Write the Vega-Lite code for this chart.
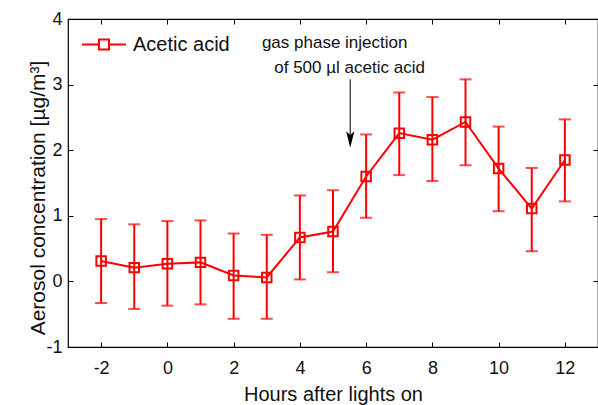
{
  "$schema": "https://vega.github.io/schema/vega-lite/v6.json",
  "width": 530,
  "height": 328,
  "autosize": {"type": "none"},
  "padding": {"left": 68, "top": 19, "right": 0, "bottom": 58},
  "background": "white",
  "config": {
    "view": {"stroke": "#000000", "strokeWidth": 1.2},
    "font": "Liberation Sans",
    "axis": {"grid": false, "domain": false, "tickColor": "#000000", "tickSize": -5, "tickWidth": 1, "labelColor": "#111111", "titleColor": "#111111", "labelFont": "Liberation Sans", "titleFont": "Liberation Sans", "labelFontSize": 18, "titleFontSize": 20, "titleFontWeight": "normal", "labelExpr": "'' + datum.value"}
  },
  "datasets": {
    "obs": [
      {"hour": -2, "conc": 0.31, "lower": -0.33, "upper": 0.95, "series": "Acetic acid"},
      {"hour": -1, "conc": 0.21, "lower": -0.42, "upper": 0.87, "series": "Acetic acid"},
      {"hour": 0, "conc": 0.27, "lower": -0.37, "upper": 0.92, "series": "Acetic acid"},
      {"hour": 1, "conc": 0.29, "lower": -0.35, "upper": 0.93, "series": "Acetic acid"},
      {"hour": 2, "conc": 0.09, "lower": -0.57, "upper": 0.73, "series": "Acetic acid"},
      {"hour": 3, "conc": 0.06, "lower": -0.57, "upper": 0.71, "series": "Acetic acid"},
      {"hour": 4, "conc": 0.67, "lower": 0.03, "upper": 1.31, "series": "Acetic acid"},
      {"hour": 5, "conc": 0.76, "lower": 0.14, "upper": 1.39, "series": "Acetic acid"},
      {"hour": 6, "conc": 1.6, "lower": 0.97, "upper": 2.24, "series": "Acetic acid"},
      {"hour": 7, "conc": 2.26, "lower": 1.62, "upper": 2.88, "series": "Acetic acid"},
      {"hour": 8, "conc": 2.16, "lower": 1.53, "upper": 2.81, "series": "Acetic acid"},
      {"hour": 9, "conc": 2.43, "lower": 1.77, "upper": 3.08, "series": "Acetic acid"},
      {"hour": 10, "conc": 1.72, "lower": 1.07, "upper": 2.36, "series": "Acetic acid"},
      {"hour": 11, "conc": 1.11, "lower": 0.46, "upper": 1.73, "series": "Acetic acid"},
      {"hour": 12, "conc": 1.85, "lower": 1.22, "upper": 2.47, "series": "Acetic acid"}
    ],
    "notes": [
      {"x": 5.05, "y": 3.63, "label": "gas phase injection"},
      {"x": 5.5, "y": 3.25, "label": "of 500 µl acetic acid"}
    ],
    "arrow": [
      {"x": 5.52, "ytop": 3.08, "ytip": 2.1, "yhead": 2.163}
    ]
  },
  "layer": [
    {
      "data": {"name": "obs"},
      "mark": {"type": "rule", "color": "#ff0000", "strokeWidth": 2},
      "encoding": {
        "x": {"field": "hour", "type": "quantitative", "scale": {"domain": [-3, 13], "nice": false, "zero": false},
          "axis": {"values": [-2, 0, 2, 4, 6, 8, 10, 12], "title": "Hours after lights on", "labelPadding": 17.5, "titleY": 53, "titleBaseline": "alphabetic"}},
        "y": {"field": "lower", "type": "quantitative", "scale": {"domain": [-1, 4], "nice": false, "zero": false},
          "axis": {"values": [-1, 0, 1, 2, 3, 4], "title": "Aerosol concentration [µg/m³]", "titleFontSize": 21, "labelPadding": 11, "titleX": -23.5, "titleY": 178.5, "titleBaseline": "alphabetic", "titleAngle": -90}},
        "y2": {"field": "upper"}
      }
    },
    {
      "data": {"name": "obs"},
      "mark": {"type": "tick", "orient": "horizontal", "color": "#ff0000", "size": 12, "thickness": 2},
      "encoding": {
        "x": {"field": "hour", "type": "quantitative", "axis": null},
        "y": {"field": "lower", "type": "quantitative", "axis": null}
      }
    },
    {
      "data": {"name": "obs"},
      "mark": {"type": "tick", "orient": "horizontal", "color": "#ff0000", "size": 12, "thickness": 2},
      "encoding": {
        "x": {"field": "hour", "type": "quantitative", "axis": null},
        "y": {"field": "upper", "type": "quantitative", "axis": null}
      }
    },
    {
      "data": {"name": "obs"},
      "mark": {"type": "line", "strokeWidth": 2},
      "encoding": {
        "x": {"field": "hour", "type": "quantitative", "axis": null},
        "y": {"field": "conc", "type": "quantitative", "axis": null},
        "color": {"field": "series", "type": "nominal", "scale": {"range": ["#ff0000"]},
          "legend": {"title": null, "orient": "none", "legendX": 13, "legendY": 2.5,
            "symbolType": "M-1,0H-0.25M0.25,0H1M-0.23,-0.23H0.23V0.23H-0.23Z",
            "symbolSize": 1936, "symbolStrokeWidth": 2, "symbolFillColor": "transparent", "symbolStrokeColor": "#ff0000",
            "labelFontSize": 20, "labelColor": "#111111", "labelFont": "Liberation Sans", "labelOffset": 6}}
      }
    },
    {
      "data": {"name": "obs"},
      "mark": {"type": "point", "shape": "square", "filled": false, "color": "#ff0000", "strokeWidth": 2, "size": 90, "opacity": 1},
      "encoding": {
        "x": {"field": "hour", "type": "quantitative", "axis": null},
        "y": {"field": "conc", "type": "quantitative", "axis": null}
      }
    },
    {
      "data": {"name": "notes"},
      "mark": {"type": "text", "fontSize": 17, "color": "#111111", "align": "center", "baseline": "middle", "font": "Liberation Sans"},
      "encoding": {
        "x": {"field": "x", "type": "quantitative", "axis": null},
        "y": {"field": "y", "type": "quantitative", "axis": null},
        "text": {"field": "label"}
      }
    },
    {
      "data": {"name": "arrow"},
      "mark": {"type": "rule", "color": "#222222", "strokeWidth": 1.2},
      "encoding": {
        "x": {"field": "x", "type": "quantitative", "axis": null},
        "y": {"field": "ytop", "type": "quantitative", "axis": null},
        "y2": {"field": "ytip"}
      }
    },
    {
      "data": {"name": "arrow"},
      "mark": {"type": "point", "shape": "M0,1L-0.5,-1L0,-0.55L0.5,-1Z", "filled": true, "color": "#000000", "size": 276, "opacity": 1},
      "encoding": {
        "x": {"field": "x", "type": "quantitative", "axis": {"orient": "top", "values": [-2, 0, 2, 4, 6, 8, 10, 12], "labels": false, "title": null}},
        "y": {"field": "yhead", "type": "quantitative", "axis": {"orient": "right", "values": [-1, 0, 1, 2, 3, 4], "labels": false, "title": null}}
      }
    }
  ],
  "resolve": {"axis": {"x": "independent", "y": "independent"}}
}
